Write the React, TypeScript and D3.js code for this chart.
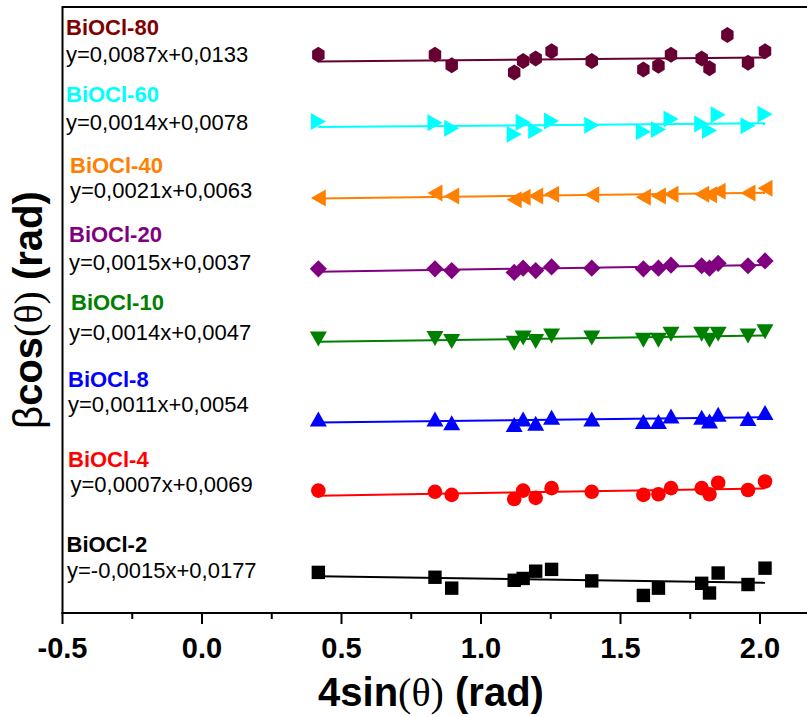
import React from 'react';
import * as d3 from 'd3';

// ---------- data ----------
const xTicks = [-0.5, 0.0, 0.5, 1.0, 1.5, 2.0];
const xTickLabels = ['-0.5', '0.0', '0.5', '1.0', '1.5', '2.0'];

const xPeaks = [0.417, 0.835, 0.895, 1.119, 1.151, 1.196, 1.253, 1.397, 1.582, 1.636, 1.681, 1.791, 1.819, 1.85, 1.957, 2.018];
const xPeaks80 = [0.417, 0.835, 0.895, 1.119, 1.151, 1.196, 1.253, 1.397, 1.582, 1.636, 1.681, 1.791, 1.819, 1.883, 1.957, 2.018];
const xPeaks2 = [0.417, 0.835, 0.895, 1.119, 1.151, 1.196, 1.253, 1.397, 1.582, 1.636, 1.791, 1.819, 1.85, 1.957, 2.018];

// stacked (offset) βcos(θ) values, arbitrary offset units
const y80 = [92.1, 92.1, 90.4, 89.2, 91.1, 91.5, 92.7, 91.1, 89.7, 90.3, 92.1, 91.5, 89.9, 95.4, 90.8, 92.7];
const y60 = [81.1, 80.9, 80.0, 79.0, 81.0, 79.6, 81.2, 80.5, 79.4, 79.8, 81.5, 80.7, 79.6, 82.2, 80.4, 82.3];
const y40 = [68.5, 69.3, 68.8, 68.2, 68.6, 68.8, 69.1, 69.0, 68.6, 68.8, 69.1, 69.1, 69.0, 69.6, 69.3, 70.1];
const y20 = [56.8, 56.8, 56.5, 56.2, 56.9, 56.5, 57.1, 56.9, 56.8, 56.9, 57.4, 57.3, 56.9, 57.7, 57.3, 58.1];
const y10 = [45.2, 45.3, 44.8, 44.5, 45.4, 44.8, 45.7, 45.4, 45.0, 45.0, 46.0, 46.0, 45.0, 46.0, 45.7, 46.4];
const y8 = [32.0, 32.0, 31.4, 31.1, 32.0, 31.3, 32.3, 32.0, 31.6, 31.6, 32.5, 32.3, 31.7, 32.8, 32.1, 33.1];
const y4 = [20.2, 20.0, 19.5, 18.8, 20.2, 19.0, 20.6, 20.0, 19.5, 19.6, 20.6, 20.6, 19.6, 21.5, 20.3, 21.7];
const y2 = [6.7, 5.9, 4.1, 5.4, 5.7, 6.9, 7.2, 5.3, 2.9, 4.1, 4.9, 3.3, 6.6, 4.7, 7.4];

const seriesNames = ['BiOCl-80', 'BiOCl-60', 'BiOCl-40', 'BiOCl-20', 'BiOCl-10', 'BiOCl-8', 'BiOCl-4', 'BiOCl-2'];
const equations = [
  'y=0,0087x+0,0133',
  'y=0,0014x+0,0078',
  'y=0,0021x+0,0063',
  'y=0,0015x+0,0037',
  'y=0,0014x+0,0047',
  'y=0,0011x+0,0054',
  'y=0,0007x+0,0069',
  'y=-0,0015x+0,0177',
];
const seriesX = [xPeaks80, xPeaks, xPeaks, xPeaks, xPeaks, xPeaks, xPeaks, xPeaks2];
const seriesY = [y80, y60, y40, y20, y10, y8, y4, y2];

// ---------- styles ----------
const markerColors = ['#660033', '#00FFFF', '#FF8000', '#800080', '#008000', '#0000FF', '#FF0000', '#000000'];
const labelColors = ['#800000', '#00FFFF', '#FF8000', '#800080', '#008000', '#0000FF', '#FF0000', '#000000'];
const markerShapes = ['hexagon', 'right', 'left', 'diamond', 'down', 'up', 'circle', 'square'];

const W = 807;
const H = 717;
const left = 62.5;
const top = 7;
const bottom = 613;
const unit = 279; // px per x unit

const labelLayout = [
  { nx: 66, ny: 35, ex: 66, ey: 61.5 },
  { nx: 66, ny: 102, ex: 66, ey: 130 },
  { nx: 70, ny: 173, ex: 70, ey: 198 },
  { nx: 69, ny: 242, ex: 69, ey: 270 },
  { nx: 71, ny: 310, ex: 69, ey: 340 },
  { nx: 68, ny: 386.5, ex: 68, ey: 411.5 },
  { nx: 68, ny: 467, ex: 70.5, ey: 491.5 },
  { nx: 66.5, ny: 551.5, ex: 67, ey: 578 },
];

function markerPath(shape: string): string {
  const p = d3.path();
  if (shape === 'hexagon') {
    const r = 8;
    for (let i = 0; i < 6; i++) {
      const a = -Math.PI / 2 + (i * Math.PI) / 3;
      const x = r * Math.cos(a) * 0.9;
      const y = r * Math.sin(a);
      if (i === 0) p.moveTo(x, y);
      else p.lineTo(x, y);
    }
    p.closePath();
  } else if (shape === 'circle') {
    p.arc(0, 0, 7.3, 0, Math.PI * 2);
  } else if (shape === 'square') {
    p.rect(-6.7, -6.7, 13.4, 13.4);
  } else if (shape === 'diamond') {
    const r = 8.6;
    p.moveTo(0, -r);
    p.lineTo(r, 0);
    p.lineTo(0, r);
    p.lineTo(-r, 0);
    p.closePath();
  } else {
    const b = 8.5; // half base
    const h = 7.5; // half height
    if (shape === 'up') {
      p.moveTo(0, -h); p.lineTo(b, h); p.lineTo(-b, h);
    } else if (shape === 'down') {
      p.moveTo(0, h); p.lineTo(b, -h); p.lineTo(-b, -h);
    } else if (shape === 'right') {
      p.moveTo(h, 0); p.lineTo(-h, -b); p.lineTo(-h, b);
    } else {
      p.moveTo(-h, 0); p.lineTo(h, -b); p.lineTo(h, b);
    }
    p.closePath();
  }
  return p.toString();
}

function linFit(xs: number[], ys: number[]) {
  const mx = d3.mean(xs) as number;
  const my = d3.mean(ys) as number;
  const sxy = d3.sum(xs.map((x, i) => (x - mx) * (ys[i] - my)));
  const sxx = d3.sum(xs.map((x) => (x - mx) * (x - mx)));
  const b = sxy / sxx;
  return { b, a: my - b * mx };
}

export default function App() {
  const x = d3.scaleLinear().domain([-0.5, 2.2]).range([left, left + 2.7 * unit]);
  const y = d3.scaleLinear().domain([0, 100]).range([bottom, top]);
  const minorTicks = d3.range(-0.5, 2.3, 0.25).filter((t) => Math.abs((t * 2) % 1) > 0.01);
  const font = 'Arial, "Liberation Sans", sans-serif';
  const serif = '"Times New Roman", "Liberation Serif", serif';
  const line = d3.line<number>().x((d) => x(d[0])).y((d) => y(d[1]));

  return (
    <svg width={W} height={H} style={{ position: 'absolute', left: 0, top: 0, background: '#fff' }}>
      <rect x={0} y={0} width={W} height={H} fill="#fff" />
      {/* series */}
      {seriesY.map((ys, si) => {
        const xs = seriesX[si];
        const fit = linFit(xs, ys);
        const x0 = d3.min(xs) as number;
        const x1 = d3.max(xs) as number;
        const path = markerPath(markerShapes[si]);
        return (
          <g key={si}>
            <path
              d={line([[x0, fit.a + fit.b * x0], [x1, fit.a + fit.b * x1]] as any) || ''}
              stroke={markerColors[si]}
              strokeWidth={2}
              fill="none"
            />
            {ys.map((v, i) => (
              <path key={i} d={path} transform={`translate(${x(xs[i])},${y(v)})`} fill={markerColors[si]} />
            ))}
          </g>
        );
      })}
      {/* labels */}
      {seriesNames.map((n, i) => (
        <g key={n}>
          <text x={labelLayout[i].nx} y={labelLayout[i].ny} fill={labelColors[i]} fontFamily={font} fontWeight="bold" fontSize={22}>
            {n}
          </text>
          <text x={labelLayout[i].ex} y={labelLayout[i].ey} fill="#000" fontFamily={font} fontSize={22}>
            {equations[i]}
          </text>
        </g>
      ))}
      {/* frame */}
      <line x1={left} x2={W} y1={top} y2={top} stroke="#000" strokeWidth={2} />
      <line x1={left} x2={left} y1={top - 1} y2={bottom + 1} stroke="#000" strokeWidth={2} />
      <line x1={left - 1} x2={W} y1={bottom} y2={bottom} stroke="#000" strokeWidth={2} />
      {xTicks.map((t) => (
        <line key={'M' + t} x1={x(t)} x2={x(t)} y1={bottom} y2={bottom + 11} stroke="#000" strokeWidth={2} />
      ))}
      {minorTicks.map((t) => (
        <line key={'m' + t} x1={x(t)} x2={x(t)} y1={bottom} y2={bottom + 6} stroke="#000" strokeWidth={2} />
      ))}
      {xTickLabels.map((lab, i) => (
        <text key={'L' + lab} x={x(xTicks[i])} y={658} textAnchor="middle" fontFamily={font} fontWeight="bold" fontSize={29}>
          {lab}
        </text>
      ))}
      {/* axis titles */}
      <text x={431} y={706} textAnchor="middle" fontFamily={font} fontWeight="bold" fontSize={40}>
        4sin<tspan fontFamily={serif} fontWeight="normal">(θ)</tspan> (rad)
      </text>
      <text
        transform="translate(42,310) rotate(-90)"
        textAnchor="middle"
        fontFamily={font}
        fontWeight="bold"
        fontSize={40}
      >
        <tspan fontWeight="normal">β</tspan>cos<tspan fontFamily={serif} fontWeight="normal">(θ)</tspan> (rad)
      </text>
    </svg>
  );
}
